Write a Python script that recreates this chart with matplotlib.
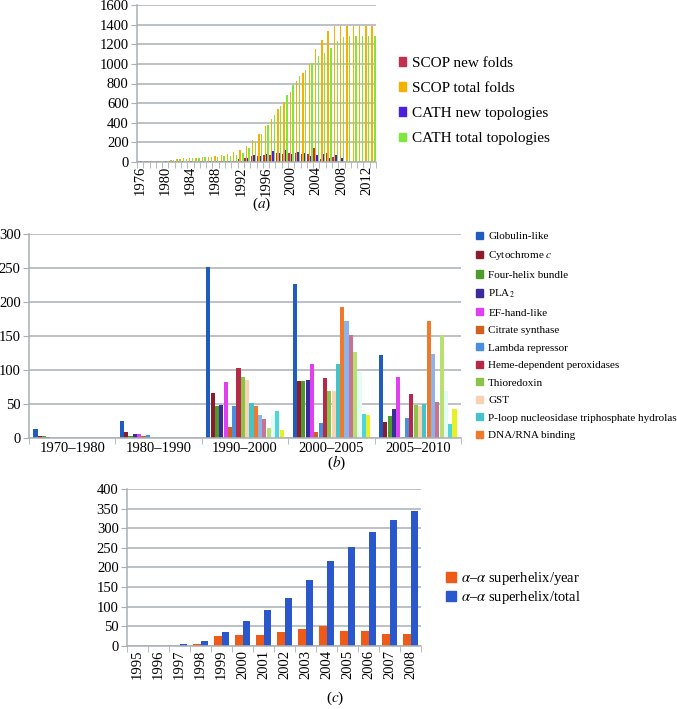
import matplotlib
matplotlib.use("Agg")
import matplotlib.pyplot as plt
from matplotlib.patches import Patch
import numpy as np

plt.rcParams['font.family'] = ['Liberation Serif', 'DejaVu Serif']
plt.rcParams['mathtext.fontset'] = 'stix'

# ---- panel (a) data ----
years_a = list(range(1976, 2014))
scop_new = [8, 8, 8, 6, 8, 10, 8, 6, 8, 6, 8, 10, 8, 8, 10, 15,
            30, 40, 60, 60, 75, 75, 90, 85, 95, 90, 80, 80, 145, 30, 95, 50, 5, 0, 0, 0, 0, 0]
scop_total = [10, 10, 10, 10, 15, 25, 35, 38, 40, 45, 48, 55, 62, 72, 80, 100,
              120, 165, 225, 285, 365, 440, 540, 610, 710, 830, 910, 1000, 1150, 1240,
              1340, 1390, 1390, 1390, 1390, 1390, 1390, 1390]
cath_new = [6, 6, 5, 5, 8, 6, 6, 5, 6, 5, 6, 8, 6, 8, 10, 12,
            15, 45, 75, 65, 85, 110, 95, 120, 85, 100, 90, 60, 75, 80, 40, 70, 40, 5, 0, 0, 0, 0]
cath_total = [5, 8, 10, 10, 12, 20, 30, 35, 40, 45, 48, 50, 55, 62, 65, 75,
              95, 140, 215, 285, 375, 480, 570, 680, 780, 880, 940, 1010, 1085, 1115,
              1165, 1235, 1270, 1280, 1280, 1280, 1280, 1280]
series_a = ["SCOP new folds", "SCOP total folds", "CATH new topologies", "CATH total topologies"]
colors_a = ["#c2304c", "#f5b000", "#4a20dc", "#7de83c"]

# ---- panel (b) data ----
periods = ["1970–1980", "1980–1990", "1990–2000", "2000–2005", "2005–2010"]
labels_b = ["Globulin-like", "Cytochrome $c$", "Four-helix bundle", "PLA$_2$", "EF-hand-like",
            "Citrate synthase", "Lambda repressor", "Heme-dependent peroxidases", "Thioredoxin",
            "GST", "P-loop nucleosidase triphosphate hydrolase", "DNA/RNA binding"]
values_b = [
    [13, 25, 252, 226, 122],
    [3, 9, 66, 83, 23],
    [3, 2, 47, 83, 32],
    [1, 5, 48, 85, 42],
    [0, 5, 82, 108, 90],
    [0, 3, 16, 8, 1],
    [0, 4, 46, 22, 29],
    [0, 0, 102, 88, 64],
    [0, 0, 89, 69, 48],
    [0, 0, 85, 69, 46],
    [0, 0, 51, 108, 49],
    [0, 0, 47, 193, 172],
    [0, 0, 34, 172, 124],
    [0, 0, 27, 151, 52],
    [0, 0, 14, 126, 151],
    [0, 0, 34, 97, 69],
    [0, 0, 40, 35, 20],
    [0, 0, 11, 34, 42],
]
colors_b = ["#1f5cc0", "#8c1c2c", "#4f9a2c", "#3a2c9c", "#e040f0", "#d0601e",
            "#4a8ee0", "#b42a48", "#8cc448", "#f8d4b4", "#44c4c8", "#f07a2c",
            "#8cb4ec", "#c87490", "#b8e070", "#e4fcf4", "#50d4dc", "#e8f020"]

# ---- panel (c) data ----
years_c = list(range(1995, 2009))
per_year = [0, 0, 0, 4, 25, 28, 28, 34, 43, 51, 37, 37, 31, 29]
total_c = [0, 0, 5, 11, 34, 63, 90, 121, 168, 217, 252, 290, 320, 345]

W, H = 677, 709
grid_c = "#a9b0b7"
fig = plt.figure(figsize=(W / 100, H / 100), dpi=100)


def box(l, t, r, b):
    return [l / W, 1 - b / H, (r - l) / W, (b - t) / H]


def style(ax, n, ymax, ystep, fs):
    ax.set_xlim(-0.5, n - 0.5)
    ax.set_ylim(0, ymax)
    ax.set_yticks(np.arange(0, ymax + 1, ystep))
    for s in ["top", "right"]:
        ax.spines[s].set_visible(False)
    for s in ["left", "bottom"]:
        ax.spines[s].set_color(grid_c)
        ax.spines[s].set_linewidth(1.1)
    ax.set_xticks(np.arange(n + 1) - 0.5, minor=True)
    ax.tick_params(axis="x", which="minor", length=4, color=grid_c)
    ax.tick_params(axis="x", which="major", length=0, labelsize=fs, pad=3)
    ax.tick_params(axis="y", length=4, color=grid_c, labelsize=fs, pad=2)
    ax.set_axisbelow(True)
    ax.grid(True, axis="y", which="major", color=grid_c, linewidth=1.1)


# (a)
ax_a = fig.add_axes(box(137, 5, 376, 162))
x = np.arange(len(years_a))
w = 0.22
for i, (vals, c) in enumerate(zip([scop_new, scop_total, cath_new, cath_total], colors_a)):
    ax_a.bar(x + (i - 1.5) * w, vals, w, color=c, linewidth=0)
style(ax_a, len(years_a), 1600, 200, 10.5)
ax_a.set_xticks(x[::4])
ax_a.set_xticklabels([str(y) for y in years_a[::4]], rotation=90)
fig.legend(handles=[Patch(color=c) for c in colors_a], labels=series_a, loc="center left",
           bbox_to_anchor=(385 / W, 1 - 101 / H), frameon=False, fontsize=11,
           handlelength=0.5, handleheight=0.5, handletextpad=0.35, labelspacing=0.8)
fig.text(262 / W, 1 - 204 / H, "($a$)", ha="center", va="center", fontsize=11)

# (b)
ax_b = fig.add_axes(box(29, 234, 461, 437.7))
xb = np.arange(len(periods))
nb = len(values_b)
wb = 0.9 / nb
for i, (vals, c) in enumerate(zip(values_b, colors_b)):
    ax_b.bar(xb + (i - (nb - 1) / 2) * wb, vals, wb * 0.95, color=c, linewidth=0)
style(ax_b, len(periods), 300, 50, 10.5)
ax_b.set_xticks(xb)
ax_b.set_xticklabels(periods)
fig.legend(handles=[Patch(color=c) for c in colors_b[:12]], labels=labels_b, loc="center left",
           bbox_to_anchor=(466 / W, 1 - 336 / H), frameon=False, fontsize=8,
           handlelength=0.6, handleheight=0.6, handletextpad=0.5, labelspacing=0.72)
fig.text(337 / W, 1 - 463 / H, "($b$)", ha="center", va="center", fontsize=11)

# (c)
ax_c = fig.add_axes(box(127, 489, 421, 645.7))
xc = np.arange(len(years_c))
wc = 0.36
ax_c.bar(xc - wc / 2, per_year, wc, color="#ee5a18", linewidth=0)
ax_c.bar(xc + wc / 2, total_c, wc, color="#2a58cc", linewidth=0)
style(ax_c, len(years_c), 400, 50, 10.5)
ax_c.set_xticks(xc)
ax_c.set_xticklabels([str(y) for y in years_c], rotation=90)
fig.legend(handles=[Patch(color="#ee5a18"), Patch(color="#2a58cc")],
           labels=["$\\alpha$–$\\alpha$ superhelix/year", "$\\alpha$–$\\alpha$ superhelix/total"],
           loc="center left", bbox_to_anchor=(433 / W, 1 - 588 / H), frameon=False, fontsize=10.5,
           handlelength=0.7, handleheight=0.7, handletextpad=0.3, labelspacing=0.15)
fig.text(335 / W, 1 - 698 / H, "($c$)", ha="center", va="center", fontsize=11)

fig.savefig("out.png", dpi=100)
